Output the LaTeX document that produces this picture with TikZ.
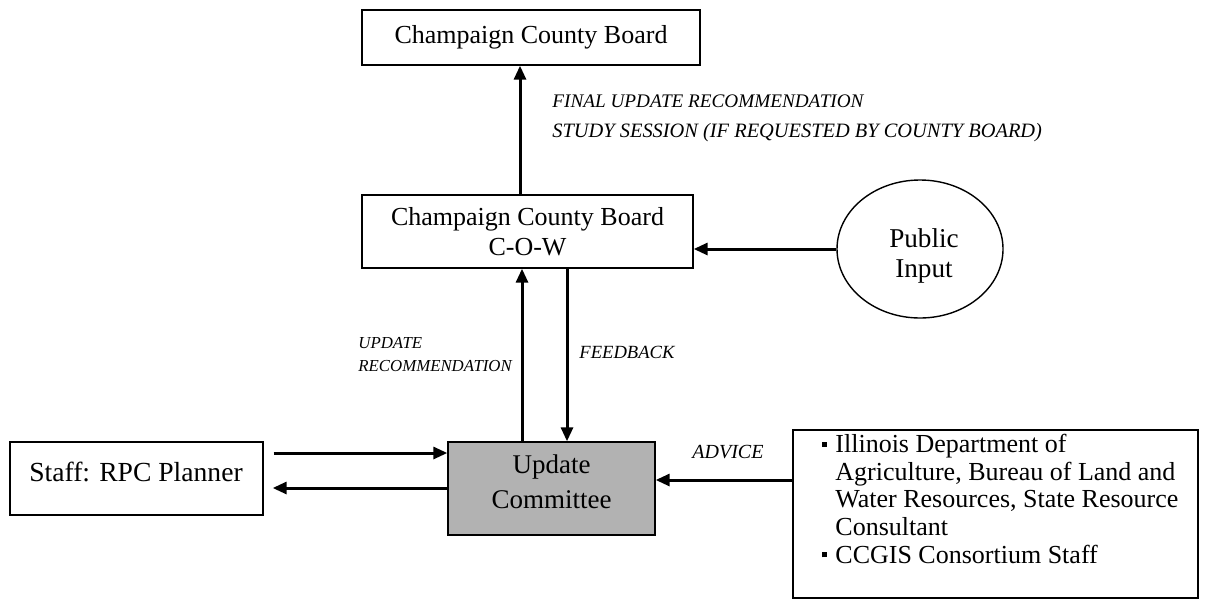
\documentclass[tikz,border=0pt]{standalone}
\usepackage{fontspec}
\setmainfont{Liberation Serif}
\usetikzlibrary{arrows.meta,shapes.geometric}
\begin{document}
\begin{tikzpicture}[x=0.5pt,y=-0.5pt,
  box/.style={draw,line width=0.7pt,inner sep=0pt,font=\fontsize{13}{15}\selectfont},
  lbl/.style={font=\fontsize{9.6}{12}\selectfont\itshape,inner sep=0pt,anchor=west,align=left},
  arr/.style={line width=1.5pt,-{Triangle[length=7pt,width=6pt]}}]
\useasboundingbox (0,0) rectangle (1208,600);
% nodes
\node[box,minimum width=169pt,minimum height=27.5pt] (top) at (531,37.5) {Champaign County Board};
\node[box,minimum width=165.5pt,minimum height=36.5pt,align=center,text depth=0pt] (cow) at (527.5,231.5) {Champaign County Board\\C-O-W};
\node[box,minimum width=103.5pt,minimum height=46.5pt,fill=black!30] (uc) at (551.5,488.5) {};
\node[font=\fontsize{13.5}{17.5}\selectfont,align=center,inner sep=0pt] (uct) at (551.5,482) {Update\\Committee};
\node[box,minimum width=126.5pt,minimum height=36.5pt] (staff) at (136.5,478.5) {};
\node[font=\fontsize{13.8}{15}\selectfont,inner sep=0pt] (stafft) at (136,472) {Staff: RPC Planner};
\node[draw,ellipse,line width=0.7pt,minimum width=83pt,minimum height=69pt,inner sep=0pt] (pub) at (920,249) {};
\node[font=\fontsize{13.6}{15}\selectfont,align=center,inner sep=0pt] (pubt) at (924,256) {Public\\Input};
\node[box,minimum width=202.5pt,minimum height=84pt] (adv) at (995.5,514) {};
\node[inner sep=0pt,anchor=north west,font=\fontsize{13}{13.8}\selectfont,align=left] (advt) at (835,434)
 {\llap{\raisebox{0.22em}{\rule{2.6pt}{2.6pt}}\hspace{4pt}}Illinois Department of\\
  Agriculture, Bureau of Land and\\
  Water Resources, State Resource\\
  Consultant\\
  \llap{\raisebox{0.22em}{\rule{2.6pt}{2.6pt}}\hspace{4pt}}CCGIS Consortium Staff};
% labels
\node[lbl] (l1) at (552,101) {FINAL UPDATE RECOMMENDATION};
\node[lbl,font=\fontsize{10.2}{12}\selectfont\itshape] (l2) at (552,133) {STUDY SESSION (IF REQUESTED BY COUNTY BOARD)};
\node[lbl,font=\fontsize{8.4}{11.5}\selectfont\itshape] (l3) at (358,355) {UPDATE\\RECOMMENDATION};
\node[lbl,font=\fontsize{9.3}{12}\selectfont\itshape] (l4) at (579,352) {FEEDBACK};
\node[lbl,font=\fontsize{10}{12}\selectfont\itshape] (l5) at (692,452) {ADVICE};
% helper coordinates
\coordinate (xa) at (520,0);
\coordinate (xb) at (522,0);
\coordinate (xc) at (567,0);
\coordinate (ya) at (0,453);
\coordinate (yb) at (0,488);
\coordinate (yc) at (0,480);
% connectors
\draw[arr] (cow.north -| xa) -- (top.south -| xa);
\draw[arr] (uc.north -| xb) -- (cow.south -| xb);
\draw[arr] (cow.south -| xc) -- (uc.north -| xc);
\draw[arr] (pub.west) -- (pub.west -| cow.east);
\draw[arr,shorten <=5pt] (staff.east |- ya) -- (uc.west |- ya);
\draw[arr,shorten >=4.5pt] (uc.west |- yb) -- (staff.east |- yb);
\draw[arr] (adv.west |- yc) -- (uc.east |- yc);
\end{tikzpicture}
\end{document}
